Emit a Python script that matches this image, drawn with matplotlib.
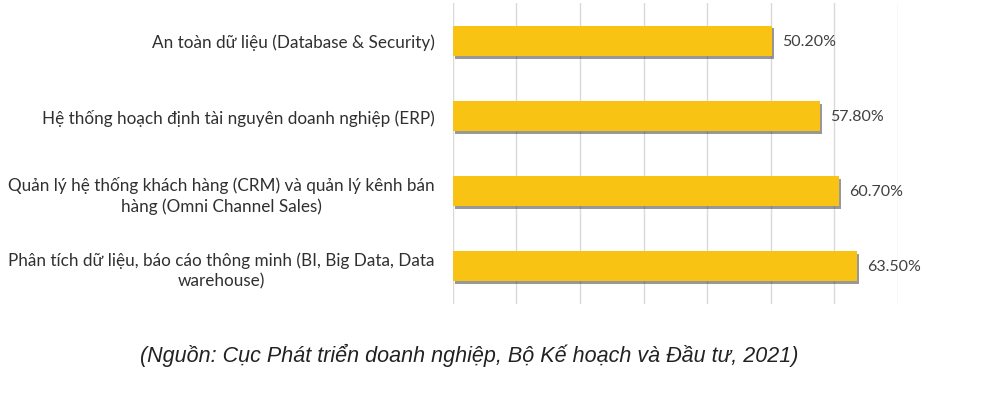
import matplotlib
matplotlib.use("Agg")
import matplotlib.pyplot as plt
import matplotlib.patheffects as pe
from matplotlib.ticker import MultipleLocator

categories = [
    "An toàn dữ liệu (Database & Security)",
    "Hệ thống hoạch định tài nguyên doanh nghiệp (ERP)",
    "Quản lý hệ thống khách hàng (CRM) và quản lý kênh bán\nhàng (Omni Channel Sales)",
    "Phân tích dữ liệu, báo cáo thông minh (BI, Big Data, Data\nwarehouse)",
]
values = [50.2, 57.8, 60.7, 63.5]
value_labels = ["50.20%", "57.80%", "60.70%", "63.50%"]
caption = "(Nguồn: Cục Phát triển doanh nghiệp, Bộ Kế hoạch và Đầu tư, 2021)"

plt.rcParams['font.family'] = ['Lato', 'DejaVu Sans']

fig = plt.figure(figsize=(10, 4.1), dpi=100)
ax = fig.add_axes([0.4527, 0.256, 0.898 - 0.4527, 0.734])

ypos = list(range(len(categories)))
bars = ax.barh(ypos, values, height=0.4, color='#F9C313', zorder=3)
for b in bars:
    b.set_path_effects([pe.SimplePatchShadow(offset=(1.5, -2), shadow_rgbFace='#444444', alpha=0.55),
                        pe.Normal()])

for y, v, lab in zip(ypos, values, value_labels):
    ax.text(v + 1.6, y, lab, va='center', ha='left', fontsize=11.5, color='#404040')

ax.set_xlim(0, 70)
ax.set_ylim(len(categories) - 0.5, -0.5)
ax.xaxis.set_major_locator(MultipleLocator(10))
ax.grid(axis='x', color='#d9d9d9', linewidth=1, zorder=0)
ax.set_xticklabels([])
ax.tick_params(axis='x', length=0)
ax.tick_params(axis='y', length=0, pad=13)
ax.set_yticks(ypos)
ax.set_yticklabels(categories, fontsize=12.3, color='#303030', ha='right',
                   multialignment='center', linespacing=1.35)
for s in ax.spines.values():
    s.set_visible(False)

fig.text(0.469, 0.134, caption, ha='center', va='center', fontsize=15.5,
         style='italic', family=['Liberation Sans', 'DejaVu Sans'], color='#222222')

fig.savefig('out.png', dpi=100, facecolor='white')
